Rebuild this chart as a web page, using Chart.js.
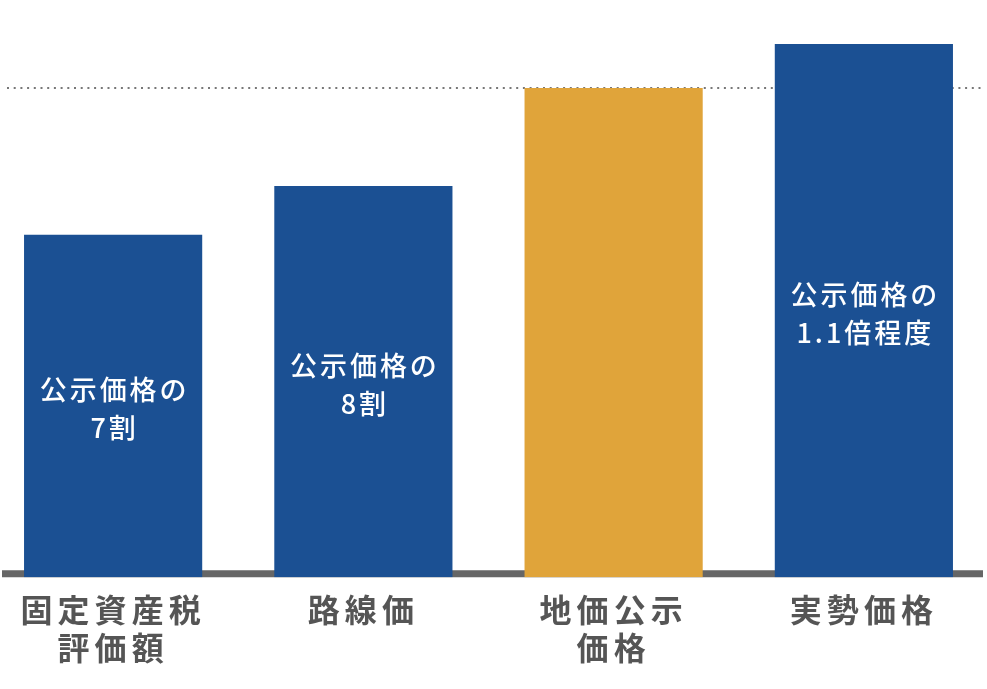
<!DOCTYPE html>
<html>
<head>
<meta charset="utf-8">
<script src="https://cdn.jsdelivr.net/npm/chart.js@4"></script>
<style>
  html, body { margin: 0; padding: 0; background: #fff; overflow: hidden; }
  #wrap { position: absolute; left: -12px; top: 0; width: 1001px; height: 689px; }
</style>
</head>
<body>
<div id="wrap"><canvas id="chart"></canvas></div>
<script>
  /* --- Data --- */
  const categories = [['固定資産税', '評価額'], '路線価', ['地価公示', '価格'], '実勢価格'];
  const values = [70, 80, 100, 109];
  const barLabels = [['公示価格の', '7割'], ['公示価格の', '8割'], [], ['公示価格の', '1.1倍程度']];
  const barColors = ['#1B5093', '#1B5093', '#E0A43A', '#1B5093'];
  const referenceValue = 100;

  const FONT = "'Noto Sans CJK JP', 'Noto Sans', sans-serif";

  /* --- Baseline, dotted reference line, labels inside bars --- */
  const linesPlugin = {
    id: 'lines',
    beforeDraw(chart) {
      chart.ctx.letterSpacing = '5px';
    },
    beforeDatasetsDraw(chart) {
      const { ctx, chartArea, scales } = chart;
      const yRef = scales.y.getPixelForValue(referenceValue);
      const y0 = scales.y.getPixelForValue(0);
      ctx.save();
      // dotted line at 100
      ctx.strokeStyle = '#777';
      ctx.lineWidth = 2;
      ctx.setLineDash([2, 4.7]);
      ctx.beginPath();
      ctx.moveTo(chartArea.left + 19, yRef);
      ctx.lineTo(chartArea.right - 4, yRef);
      ctx.stroke();
      // baseline
      ctx.setLineDash([]);
      ctx.strokeStyle = '#666';
      ctx.lineWidth = 7;
      ctx.beginPath();
      ctx.moveTo(chartArea.left + 14, y0 - 3.5);
      ctx.lineTo(chartArea.right - 6, y0 - 3.5);
      ctx.stroke();
      ctx.restore();
    },
    afterDatasetsDraw(chart) {
      const { ctx } = chart;
      const meta = chart.getDatasetMeta(0);
      ctx.save();
      ctx.fillStyle = '#fff';
      ctx.font = '500 27px ' + FONT;
      ctx.letterSpacing = '3px';
      ctx.textAlign = 'center';
      ctx.textBaseline = 'middle';
      const lh = 38;
      meta.data.forEach((bar, i) => {
        const lines = barLabels[i];
        if (!lines.length) return;
        const cy = (bar.y + bar.base) / 2 + 3;
        lines.forEach((t, j) => {
          ctx.fillText(t, bar.x + 1.5, cy + (j - (lines.length - 1) / 2) * lh);
        });
      });
      ctx.restore();
    },
    afterDraw(chart) {
      chart.ctx.letterSpacing = '0px';
    }
  };

  new Chart(document.getElementById('chart'), {
    type: 'bar',
    data: {
      labels: categories,
      datasets: [{
        data: values,
        backgroundColor: barColors,
        borderWidth: 0,
        categoryPercentage: 1,
        barPercentage: 0.712
      }]
    },
    options: {
      responsive: true,
      maintainAspectRatio: false,
      animation: false,
      layout: { padding: { top: 0, bottom: 9, left: 0, right: 0 } },
      plugins: { legend: { display: false }, tooltip: { enabled: false } },
      scales: {
        x: {
          grid: { display: false, drawTicks: false },
          border: { display: false },
          ticks: {
            color: '#555',
            padding: 13,
            font: { family: FONT, size: 32, weight: 'bold', lineHeight: 1.2 }
          }
        },
        y: {
          display: false,
          min: 0,
          max: 118
        }
      }
    },
    plugins: [linesPlugin]
  });
</script>
</body>
</html>
